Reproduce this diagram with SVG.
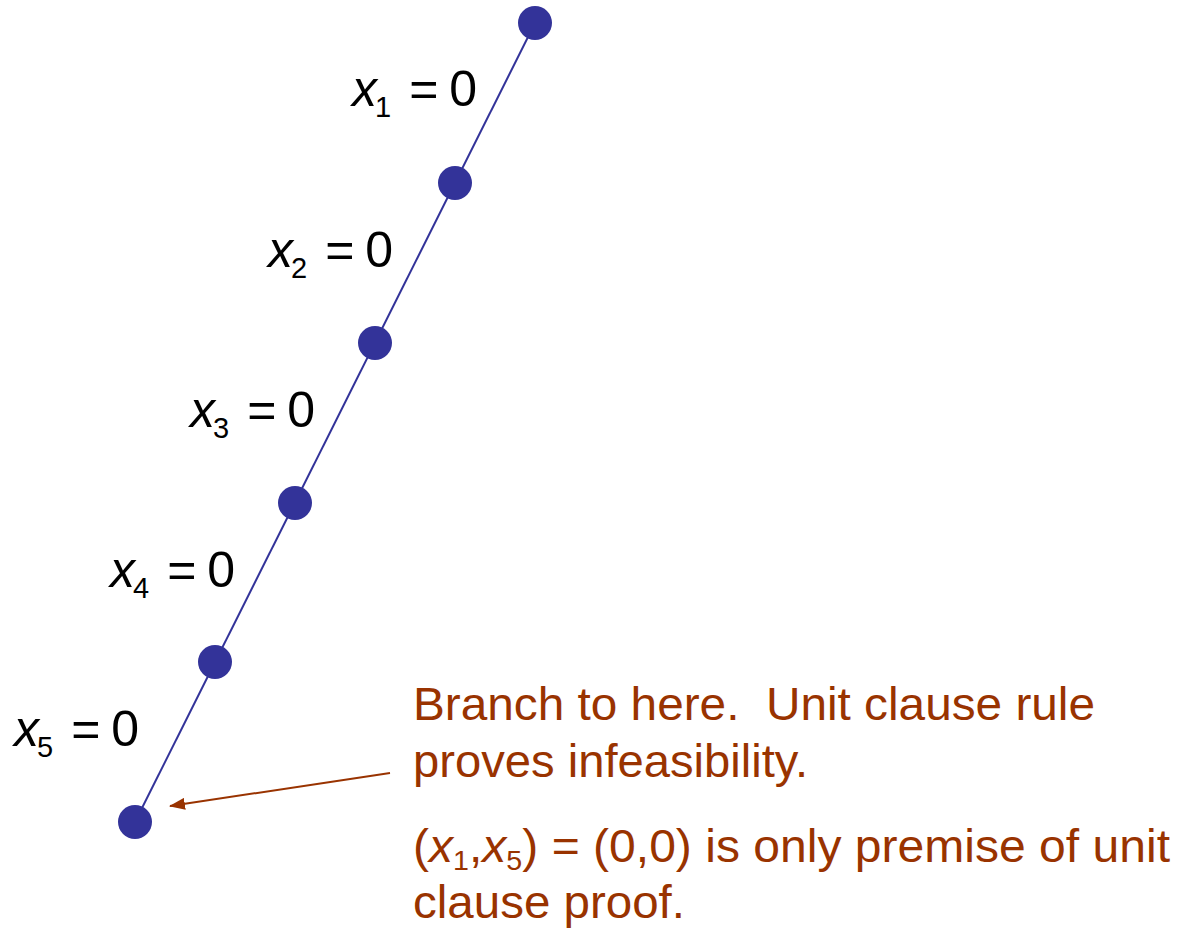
<svg xmlns="http://www.w3.org/2000/svg" width="1181" height="929" viewBox="0 0 1181 929">
<defs>
<style>
.node{fill:#333399}
.lbl{font-family:"Liberation Sans",Arial,sans-serif;font-size:50px;fill:#000}
.v{font-style:italic}
.sub{font-size:29px}
.note{font-family:"Liberation Sans",Arial,sans-serif;font-size:47px;fill:#993300}
</style>
<marker id="ah2" viewBox="0 0 16 12" refX="15" refY="6" markerWidth="16" markerHeight="12" markerUnits="userSpaceOnUse" orient="auto">
<path d="M0,0 L16,6 L0,12 z" fill="#993300"/>
</marker>
</defs>
<rect width="1181" height="929" fill="#fff"/>
<g id="connectors">
<line x1="535" y1="23" x2="135" y2="822" stroke="#333399" stroke-width="2"/>
<line x1="390" y1="773" x2="170" y2="806" stroke="#993300" stroke-width="2" marker-end="url(#ah2)"/>
</g>
<g id="n1"><circle class="node" cx="535" cy="23" r="17"/></g>
<g id="n2"><circle class="node" cx="455" cy="183" r="17"/></g>
<g id="n3"><circle class="node" cx="375" cy="343" r="17"/></g>
<g id="n4"><circle class="node" cx="295" cy="503" r="17"/></g>
<g id="n5"><circle class="node" cx="215" cy="662" r="17"/></g>
<g id="n6"><circle class="node" cx="135" cy="822" r="17"/></g>
<g id="labels">
<text class="lbl" x="352" y="106"><tspan class="v">x</tspan><tspan class="sub" dx="-2" dy="11">1</tspan><tspan dx="18" dy="-11">=</tspan><tspan dx="11">0</tspan></text>
<text class="lbl" x="268" y="267"><tspan class="v">x</tspan><tspan class="sub" dx="-2" dy="11">2</tspan><tspan dx="18" dy="-11">=</tspan><tspan dx="11">0</tspan></text>
<text class="lbl" x="190" y="427"><tspan class="v">x</tspan><tspan class="sub" dx="-2" dy="11">3</tspan><tspan dx="18" dy="-11">=</tspan><tspan dx="11">0</tspan></text>
<text class="lbl" x="110" y="587"><tspan class="v">x</tspan><tspan class="sub" dx="-2" dy="11">4</tspan><tspan dx="18" dy="-11">=</tspan><tspan dx="11">0</tspan></text>
<text class="lbl" x="14" y="746"><tspan class="v">x</tspan><tspan class="sub" dx="-2" dy="11">5</tspan><tspan dx="18" dy="-11">=</tspan><tspan dx="11">0</tspan></text>
</g>
<g id="note">
<text class="note" x="413" y="720" textLength="682" lengthAdjust="spacingAndGlyphs" xml:space="preserve">Branch to here.  Unit clause rule</text>
<text class="note" x="413" y="777" textLength="395" lengthAdjust="spacingAndGlyphs">proves infeasibility.</text>
<text class="note" x="413" y="862" textLength="757" lengthAdjust="spacingAndGlyphs">(<tspan class="v">x</tspan><tspan font-size="28" dy="8">1</tspan><tspan dy="-8">,</tspan><tspan class="v">x</tspan><tspan font-size="28" dy="8">5</tspan><tspan dy="-8">) = (0,0) is only premise of unit</tspan></text>
<text class="note" x="413" y="918" textLength="272" lengthAdjust="spacingAndGlyphs">clause proof.</text>
</g>
</svg>
